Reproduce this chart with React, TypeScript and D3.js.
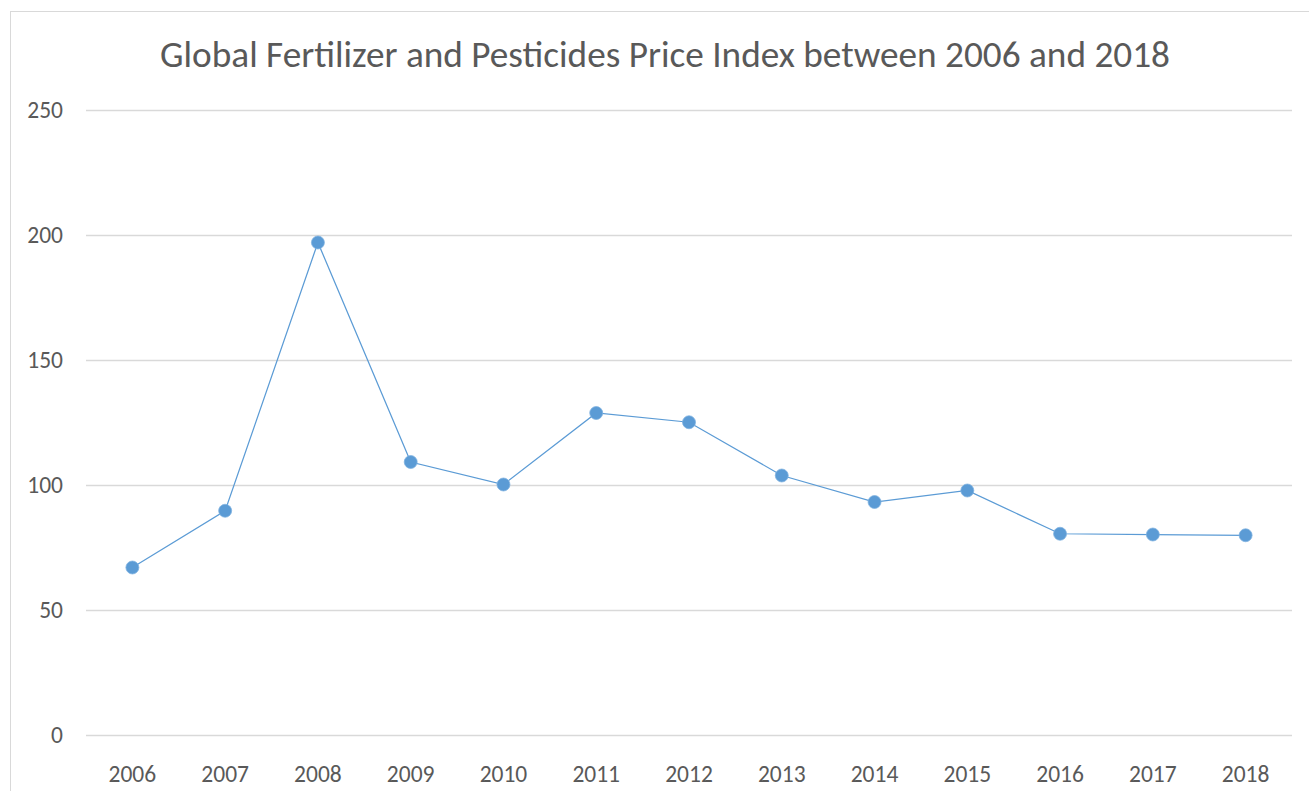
import React from "react";
import * as d3 from "d3";

const years = ["2006","2007","2008","2009","2010","2011","2012","2013","2014","2015","2016","2017","2018"];
const priceIndex = [66.8, 89.5, 196.8, 109.0, 100.0, 128.6, 124.9, 103.6, 93.0, 97.6, 80.3, 80.0, 79.7];
const yTicks = [0, 50, 100, 150, 200, 250];
const title = "Global Fertilizer and Pesticides Price Index between 2006 and 2018";

const W = 1309, H = 791;
const left = 86, right = 1292, top = 109.5, bottom = 734.5;
const FONT = "Carlito, Calibri, 'Open Sans', sans-serif";

export default function App() {
  const x = d3.scalePoint<string>().domain(years).range([left, right]).padding(0.5);
  const y = d3.scaleLinear().domain([0, 250]).range([bottom, top]);
  const line = d3.line<number>().x((_, i) => x(years[i])!).y(d => y(d));
  return (
    <svg width={W} height={H} style={{ position: "absolute", left: 0, top: 0, background: "#fff" }}>
      <rect x={10.5} y={11.5} width={1320} height={820} fill="#fff" stroke="#D9D9D9" strokeWidth={1} />
      <text x={665} y={67} textAnchor="middle" fontFamily={FONT} fontSize={36} fill="#595959"
        textLength={1010} lengthAdjust="spacingAndGlyphs">{title}</text>
      {yTicks.map(t => (
        <g key={t}>
          <line x1={left} x2={right} y1={Math.round(y(t)) + 0.5} y2={Math.round(y(t)) + 0.5} stroke="#D9D9D9" strokeWidth={1.3} />
          <text x={63} y={y(t) + 8} textAnchor="end" fontFamily={FONT} fontSize={23.5} fill="#595959">{t}</text>
        </g>
      ))}
      {years.map(yr => (
        <text key={yr} x={x(yr)!} y={781.5} textAnchor="middle" fontFamily={FONT} fontSize={23.5} fill="#595959">{yr}</text>
      ))}
      <path d={line(priceIndex)!} fill="none" stroke="#5B9BD5" strokeWidth={1.25} />
      {priceIndex.map((v, i) => (
        <circle key={i} cx={x(years[i])!} cy={y(v)} r={6.5} fill="#5B9BD5" stroke="#7FB2E0" strokeWidth={0.75} />
      ))}
    </svg>
  );
}
